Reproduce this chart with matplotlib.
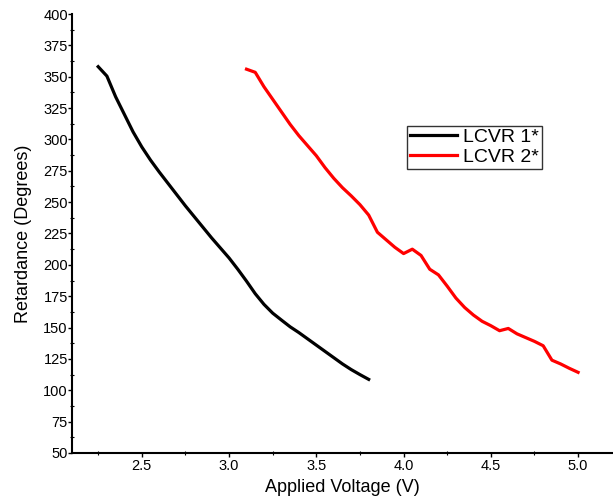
import matplotlib
matplotlib.use("Agg")
import matplotlib.pyplot as plt
from matplotlib.ticker import MultipleLocator

plt.rcParams['font.family'] = ['Liberation Sans', 'DejaVu Sans']

# LCVR 1
v1 = [2.25, 2.30, 2.35, 2.40, 2.45, 2.50, 2.55, 2.60, 2.65, 2.70, 2.75, 2.80,
      2.85, 2.90, 2.95, 3.00, 3.05, 3.10, 3.15, 3.20, 3.25, 3.30, 3.35, 3.40,
      3.45, 3.50, 3.55, 3.60, 3.65, 3.70, 3.75, 3.80]
r1 = [358.0, 350.5, 334.0, 320.0, 306.0, 294.0, 283.5, 274.0, 265.0, 256.0, 247.0, 238.5,
      230.0, 221.5, 213.5, 205.5, 196.5, 187.0, 177.0, 168.5, 161.5, 156.0, 150.6, 146.0,
      141.0, 136.0, 131.0, 126.0, 121.0, 116.5, 112.5, 108.7]

# LCVR 2
v2 = [3.10, 3.15, 3.20, 3.25, 3.30, 3.35, 3.40, 3.45, 3.50, 3.55, 3.60, 3.65, 3.70,
      3.75, 3.80, 3.85, 3.90, 3.95, 4.00, 4.05, 4.10, 4.15, 4.20, 4.25, 4.30, 4.35,
      4.40, 4.45, 4.50, 4.55, 4.60, 4.65, 4.70, 4.75, 4.80, 4.85, 4.90, 4.95, 5.00]
r2 = [356.0, 353.5, 342.0, 332.0, 322.0, 312.0, 303.0, 295.0, 287.0, 277.5, 269.0, 261.5, 255.0,
      248.0, 239.7, 226.0, 220.0, 214.0, 209.0, 212.5, 207.5, 196.5, 192.0, 183.0, 173.5, 166.0,
      160.0, 155.0, 151.5, 147.5, 149.3, 145.0, 142.0, 139.0, 135.5, 124.0, 121.0, 117.5, 114.3]

labels = ["LCVR 1*", "LCVR 2*"]
colors = ["#000000", "#ff0000"]

fig = plt.figure(figsize=(6.13, 4.99), dpi=100)
ax = fig.add_axes([72/613, 46/499, (613-72)/613, (453-14)/499])

ax.plot(v1, r1, color=colors[0], lw=2.3, label=labels[0], solid_joinstyle='round')
ax.plot(v2, r2, color=colors[1], lw=2.3, label=labels[1], solid_joinstyle='round')

ax.set_xlim(2.1, 5.2)
ax.set_ylim(50, 400)
ax.xaxis.set_major_locator(MultipleLocator(0.5))
ax.xaxis.set_minor_locator(MultipleLocator(0.25))
ax.yaxis.set_major_locator(MultipleLocator(25))
ax.yaxis.set_minor_locator(MultipleLocator(12.5))
ax.xaxis.set_major_formatter(matplotlib.ticker.FormatStrFormatter('%.1f'))

for s in ['top', 'right']:
    ax.spines[s].set_visible(False)
for s in ['left', 'bottom']:
    ax.spines[s].set_linewidth(1.5)

ax.tick_params(axis='both', which='major', direction='out', length=3, width=1, labelsize=10.5, pad=1)
ax.tick_params(axis='both', which='minor', direction='inout', length=3, width=0.8)
ax.tick_params(axis='y', pad=0)

ax.set_xlabel("Applied Voltage (V)", fontsize=13, labelpad=5)
ax.set_ylabel("Retardance (Degrees)", fontsize=13, labelpad=8)

leg = ax.legend(loc='upper left', bbox_to_anchor=(0.62, 0.746), borderaxespad=0,
                fontsize=14, frameon=True, fancybox=False, edgecolor='black',
                handlelength=2.4, handletextpad=0.3, labelspacing=0.1, borderpad=0.15)
leg.get_frame().set_linewidth(1.0)

fig.savefig("out.png", dpi=100)
